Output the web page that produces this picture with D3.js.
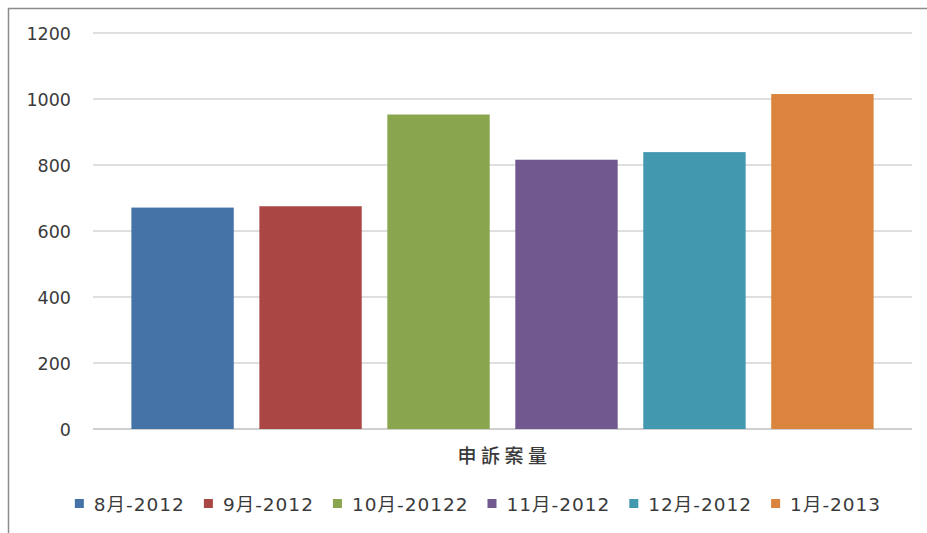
<!DOCTYPE html>
<html>
<head>
<meta charset="utf-8">
<script src="https://cdn.jsdelivr.net/npm/d3@7"></script>
<style>
  body { margin: 0; background: #fff; }
  text { font-family: "DejaVu Sans", "Noto Sans CJK TC", sans-serif; fill: #3a3a3a; }
</style>
</head>
<body>
<div id="chart"></div>
<script>
// data
var seriesNames = ["8月-2012", "9月-2012", "10月-20122", "11月-2012", "12月-2012", "1月-2013"];
var seriesValues = [671, 675, 953, 816, 839, 1015];
var seriesColors = ["#4572a7", "#aa4643", "#89a54e", "#71588f", "#4198af", "#db843d"];
var yTicks = [0, 200, 400, 600, 800, 1000, 1200];
var categoryLabel = "申訴案量";

var W = 927, H = 533;
var plot = { left: 93, right: 912, top: 33, bottom: 429 };

var svg = d3.select("#chart").append("svg")
  .attr("width", W)
  .attr("height", H);

// chart frame (runs past right/bottom of the picture)
svg.append("rect")
  .attr("x", 8.5).attr("y", 8.5)
  .attr("width", W + 20).attr("height", H + 20)
  .attr("fill", "none")
  .attr("stroke", "#8c8c8c")
  .attr("stroke-width", 1.5);

var y = d3.scaleLinear().domain([0, 1200]).range([plot.bottom, plot.top]);
var x = d3.scaleBand().domain(seriesNames)
  .range([plot.left, plot.right])
  .paddingInner(0.2)
  .paddingOuter(0.3);

// gridlines
svg.selectAll(".grid")
  .data(yTicks)
  .enter().append("line")
  .attr("class", "grid")
  .attr("x1", plot.left).attr("x2", plot.right)
  .attr("y1", function(d) { return y(d); })
  .attr("y2", function(d) { return y(d); })
  .attr("stroke", function(d) { return d === 0 ? "#bfbfbf" : "#d4d4d4"; })
  .attr("stroke-width", 1.5);

// y tick labels
svg.selectAll(".ytick")
  .data(yTicks)
  .enter().append("text")
  .attr("class", "ytick")
  .attr("x", 71)
  .attr("y", function(d) { return y(d) + 6.5; })
  .style("text-anchor", "end")
  .style("font-size", "17.5px")
  .text(function(d) { return d; });

// bars
svg.selectAll(".bar")
  .data(seriesValues)
  .enter().append("rect")
  .attr("class", "bar")
  .attr("x", function(d, i) { return x(seriesNames[i]); })
  .attr("y", function(d) { return y(d); })
  .attr("width", x.bandwidth())
  .attr("height", function(d) { return y(0) - y(d); })
  .attr("fill", function(d, i) { return seriesColors[i]; });

// category label
svg.append("text")
  .attr("x", (plot.left + plot.right) / 2 + 2)
  .attr("y", 463)
  .style("text-anchor", "middle")
  .style("font-size", "19px")
  .style("font-weight", "500")
  .style("letter-spacing", "4.5px")
  .text(categoryLabel);

// legend
var legend = svg.append("g").attr("class", "legend");
var items = legend.selectAll("g")
  .data(seriesNames)
  .enter().append("g");

items.append("rect")
  .attr("width", 9).attr("height", 9)
  .attr("y", -12)
  .attr("fill", function(d, i) { return seriesColors[i]; });

items.append("text")
  .attr("x", 19)
  .style("font-size", "18.5px")
  .style("letter-spacing", "1px")
  .text(function(d) { return d; });

var gap = 19;
var cursor = 0;
items.each(function() {
  var w = d3.select(this).select("text").node().getComputedTextLength();
  d3.select(this).attr("transform", "translate(" + cursor + ",0)");
  cursor += 19 + w + gap;
});
var legendWidth = cursor - gap;
legend.attr("transform", "translate(" + (478 - legendWidth / 2) + ",511)");
</script>
</body>
</html>
